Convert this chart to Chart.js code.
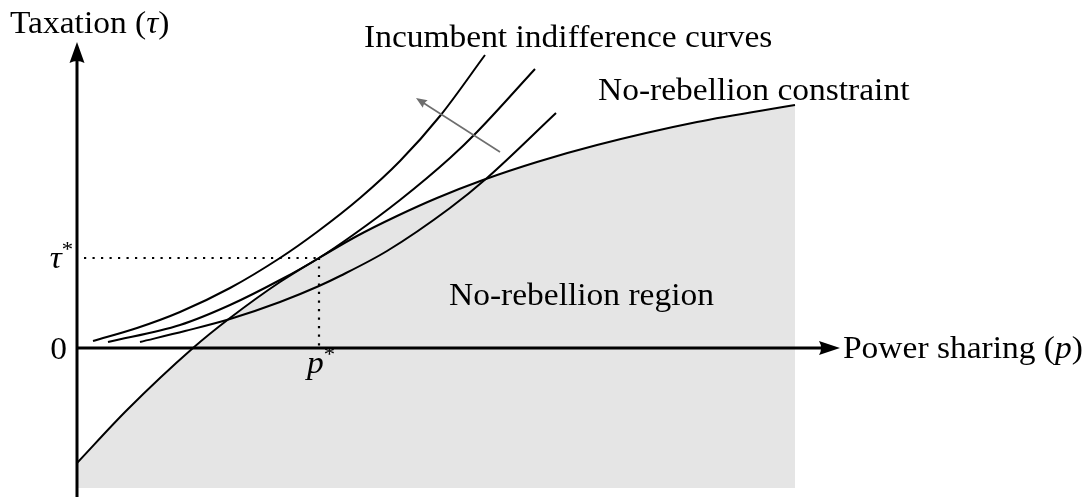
<!DOCTYPE html>
<html>
<head>
<meta charset="utf-8">
<script src="https://cdn.jsdelivr.net/npm/chart.js@4/dist/chart.umd.min.js"></script>
<style>
  html, body { margin: 0; padding: 0; background: #fff; }
  #wrap { width: 1089px; height: 497px; }
</style>
</head>
<body>
<div id="wrap"><canvas id="chart" width="1089" height="497"></canvas></div>
<script>
// curves (x = power sharing, y = taxation, arbitrary units)
const constraintX = [0, 0.5, 1.16, 1.53, 2.03, 2.42, 2.8, 3.2, 3.6, 4.06, 4.6, 5.2, 6.2, 7.18]
const constraintY = [-1.15, -0.62, 0, 0.30, 0.66, 0.90, 1.12, 1.32, 1.50, 1.68, 1.86, 2.03, 2.26, 2.43]

const curve1X = [0.16, 0.6, 1.03, 1.53, 2.03, 2.40, 2.83, 3.23, 3.63, 4.08]
const curve1Y = [0.07, 0.20, 0.36, 0.60, 0.90, 1.16, 1.50, 1.87, 2.32, 2.93]

const curve2X = [0.31, 1.03, 1.53, 2.03, 2.42, 2.76, 3.23, 3.73, 4.00, 4.58]
const curve2Y = [0.06, 0.23, 0.43, 0.68, 0.90, 1.13, 1.48, 1.90, 2.16, 2.79]

const curve3X = [0.63, 1.08, 1.53, 2.03, 2.42, 2.63, 3.10, 3.73, 4.10, 4.79]
const curve3Y = [0.06, 0.17, 0.29, 0.46, 0.62, 0.72, 0.97, 1.40, 1.70, 2.35]

const pStar = 2.42
const tauStar = 0.90
const regionBottom = -1.40
const dotStartX = 0.07

const xAxisEnd = 7.63
const yAxisStart = -1.49
const yAxisEnd = 3.06

const shiftFrom = [4.23, 1.96]
const shiftTo = [3.39, 2.50]

const FONT = '"Liberation Serif", "Times New Roman", serif'
const STRETCH = 1.08

function pts(xs, ys) {
    return xs.map((x, i) => ({ x: x, y: ys[i] }))
}

function curve(data, extra) {
    return Object.assign({
        data: data,
        borderColor: '#000',
        borderWidth: 2,
        pointRadius: 0,
        fill: false,
        cubicInterpolationMode: 'monotone'
    }, extra || {})
}

function setFont(ctx, p) {
    ctx.font = (p[1] ? 'italic ' : '') + (p[2] ? 21 : 31) + 'px ' + FONT
}

// write a run of [text, italic, superscript] pieces from x on the baseline y
function runs(ctx, x, y, parts, align) {
    const widths = parts.map(p => {
        setFont(ctx, p)
        return ctx.measureText(p[0]).width * STRETCH
    })
    const total = widths.reduce((a, b) => a + b, 0)
    let cx = align === 'right' ? x - total : x
    parts.forEach((p, i) => {
        setFont(ctx, p)
        ctx.save()
        ctx.translate(cx, p[2] ? y - 12 : y)
        ctx.scale(STRETCH, 1)
        ctx.fillText(p[0], 0, 0)
        ctx.restore()
        cx += widths[i]
    })
}

function head(ctx, tip, from, len, half, color) {
    const dx = tip[0] - from[0], dy = tip[1] - from[1]
    const d = Math.hypot(dx, dy)
    const ux = dx / d, uy = dy / d
    const bx = tip[0] - ux * len, by = tip[1] - uy * len
    ctx.fillStyle = color
    ctx.beginPath()
    ctx.moveTo(tip[0], tip[1])
    ctx.lineTo(bx - uy * half, by + ux * half)
    ctx.quadraticCurveTo(tip[0] - ux * len * 0.8, tip[1] - uy * len * 0.8, bx + uy * half, by - ux * half)
    ctx.closePath()
    ctx.fill()
}

const decor = {
    id: 'decor',
    afterDatasetsDraw(chart) {
        const ctx = chart.ctx
        const sx = chart.scales.x, sy = chart.scales.y
        const px = v => sx.getPixelForValue(v)
        const py = v => sy.getPixelForValue(v)
        ctx.save()
        // axis arrow heads
        head(ctx, [px(0), py(yAxisEnd)], [px(0), py(0)], 21, 7.5, '#000')
        head(ctx, [px(xAxisEnd), py(0)], [px(0), py(0)], 21, 7, '#000')
        head(ctx, [px(shiftTo[0]), py(shiftTo[1])], [px(shiftFrom[0]), py(shiftFrom[1])], 11, 4.5, '#6e6e6e')

        ctx.fillStyle = '#000'
        ctx.textBaseline = 'alphabetic'
        runs(ctx, 10, 33, [['Taxation (', false], ['τ', true], [')', false]])
        runs(ctx, 364, 47, [['Incumbent indifference curves', false]])
        runs(ctx, 598, 100, [['No-rebellion constraint', false]])
        runs(ctx, 449, 305, [['No-rebellion region', false]])
        runs(ctx, px(xAxisEnd) + 3, py(0) + 10, [['Power sharing (', false], ['p', true], [')', false]])
        runs(ctx, px(0) - 4, py(tauStar) + 10, [['τ', true], ['*', false, true]], 'right')
        runs(ctx, px(0) - 10, py(0) + 11, [['0', false]], 'right')
        runs(ctx, px(pStar) - 12, py(0) + 25, [['p', true], ['*', false, true]])
        ctx.restore()
    }
}

new Chart(document.getElementById('chart'), {
    type: 'scatter',
    data: {
        datasets: [
            curve(pts(constraintX, constraintY), {
                fill: { value: regionBottom },
                backgroundColor: '#e5e5e5',
                order: 10
            }),
            curve(pts([dotStartX, pStar], [tauStar, tauStar]), { borderWidth: 2.2, borderDash: [2.2, 6.3], borderColor: '#000', order: 8 }),
            curve(pts([pStar, pStar], [tauStar, 0]), { borderWidth: 2.2, borderDash: [2.2, 6.3], borderColor: '#000', order: 8 }),
            curve(pts(curve1X, curve1Y), { order: 5 }),
            curve(pts(curve2X, curve2Y), { order: 5 }),
            curve(pts(curve3X, curve3Y), { order: 5 }),
            curve(pts([shiftFrom[0], shiftTo[0] + 0.06], [shiftFrom[1], shiftTo[1] - 0.04]), { borderColor: '#6e6e6e', borderWidth: 1.6, order: 4 }),
            curve(pts([0, xAxisEnd - 0.1], [0, 0]), { borderWidth: 3, order: 1 }),
            curve(pts([0, 0], [yAxisStart, yAxisEnd - 0.1]), { borderWidth: 3, order: 1 })
        ]
    },
    options: {
        responsive: false,
        animation: false,
        showLine: true,
        layout: { padding: 0 },
        plugins: { legend: { display: false }, tooltip: { enabled: false } },
        scales: {
            x: { type: 'linear', display: false, min: -0.77, max: 10.12 },
            y: { type: 'linear', display: false, min: -1.49, max: 3.48 }
        }
    },
    plugins: [decor]
})
</script>
</body>
</html>
